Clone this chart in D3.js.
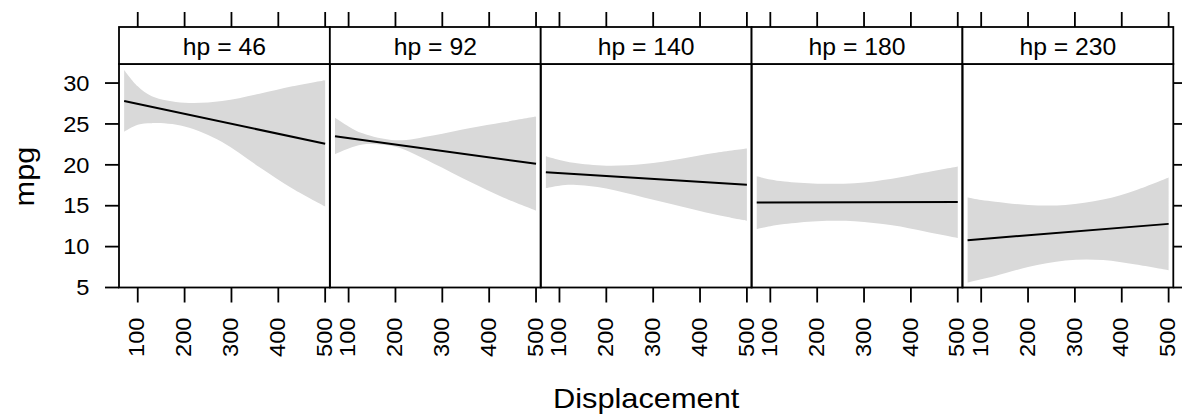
<!DOCTYPE html>
<html>
<head>
<meta charset="utf-8">
<script src="https://cdn.jsdelivr.net/npm/d3@7"></script>
<style>
  html, body { margin: 0; padding: 0; background: #ffffff; }
  svg { display: block; }
  text { font-family: "Liberation Sans", Arial, Helvetica, sans-serif; fill: #000; }
</style>
</head>
<body>
<svg id="chart" width="1182" height="415"></svg>
<script>
// ---------------- data ----------------
const hpLevels = [46, 92, 140, 180, 230];
const dispGrid = [71, 100, 130, 200, 280, 360, 430, 500];
const upperBand = [
  [31.6, 29.6, 28.4, 27.6, 27.8, 28.7, 29.6, 30.35],
  [25.76, 24.7, 23.85, 23.0, 23.6, 24.5, 25.2, 25.9],
  [21.05, 20.6, 20.25, 19.9, 20.1, 20.75, 21.45, 22.0],
  [18.6, 18.2, 17.95, 17.7, 17.75, 18.3, 19.05, 19.8],
  [16.0, 15.7, 15.5, 15.1, 15.1, 15.75, 16.9, 18.45]
];
const lowerBand = [
  [24.05, 24.9, 25.1, 24.7, 22.8, 19.7, 17.1, 14.9],
  [21.3, 22.0, 22.5, 22.2, 20.2, 17.9, 16.0, 14.4],
  [17.15, 17.45, 17.55, 17.1, 16.0, 14.9, 13.95, 13.15],
  [12.15, 12.5, 12.75, 13.1, 13.1, 12.6, 11.85, 11.05],
  [5.6, 6.0, 6.4, 7.5, 8.3, 8.35, 7.8, 7.1]
];
const fitDisp = [71, 500];
const fitMpg = [
  [27.8, 22.58],
  [23.5, 20.13],
  [19.1, 17.56],
  [15.4, 15.45],
  [10.79, 12.78]
];
const xTicks = [100, 200, 300, 400, 500];
const yTicks = [5, 10, 15, 20, 25, 30];
const xLabel = "Displacement";
const yLabel = "mpg";

// ---------------- layout ----------------
const svg = d3.select("#chart");
const left = 119, right = 1173.3;
const stripTop = 27, panelTop = 64, panelBottom = 287.5;
const nP = hpLevels.length;
const pw = (right - left) / nP;
const tickLen = 15;
const tickFont = 21.5, tickStretch = 1.1;
const stripFont = 24, stripStretch = 1.03;
const labFont = 28.5, labStretch = 1.08;
const lw = 1.8;

const y = d3.scaleLinear().domain([5, 32.33]).range([panelBottom, panelTop]);

const bandColor = "#d9d9d9";

hpLevels.forEach((hp, i) => {
  const x0 = left + i * pw;
  const x = d3.scaleLinear().domain([60, 510]).range([x0, x0 + pw]);
  const g = svg.append("g");

  // band
  const pts = dispGrid.map((d, k) => ({ d, lo: lowerBand[i][k], hi: upperBand[i][k] }));
  const area = d3.area()
    .x(p => x(p.d))
    .y0(p => y(p.lo))
    .y1(p => y(p.hi))
    .curve(d3.curveCatmullRom.alpha(0.5));
  g.append("path").attr("d", area(pts)).attr("fill", bandColor).attr("stroke", "none");

  // fitted line
  const line = d3.line().x(p => x(p[0])).y(p => y(p[1]));
  g.append("path")
    .attr("d", line(fitDisp.map((d, k) => [d, fitMpg[i][k]])))
    .attr("fill", "none").attr("stroke", "#000").attr("stroke-width", 2);

  // panel frame
  g.append("rect")
    .attr("x", x0).attr("y", panelTop).attr("width", pw).attr("height", panelBottom - panelTop)
    .attr("fill", "none").attr("stroke", "#000").attr("stroke-width", lw);

  // strip
  g.append("rect")
    .attr("x", x0).attr("y", stripTop).attr("width", pw).attr("height", panelTop - stripTop)
    .attr("fill", "#fff").attr("stroke", "#000").attr("stroke-width", lw);
  g.append("g")
    .attr("transform", `translate(${x0 + pw / 2},${54.5}) scale(${stripStretch},1)`)
    .append("text")
    .attr("text-anchor", "middle")
    .attr("font-size", stripFont)
    .text(`hp = ${hp}`);

  // bottom ticks + labels, top ticks
  xTicks.forEach(t => {
    const xx = x(t);
    g.append("line").attr("x1", xx).attr("x2", xx)
      .attr("y1", panelBottom).attr("y2", panelBottom + tickLen)
      .attr("stroke", "#000").attr("stroke-width", lw);
    g.append("line").attr("x1", xx).attr("x2", xx)
      .attr("y1", stripTop).attr("y2", stripTop - tickLen)
      .attr("stroke", "#000").attr("stroke-width", lw);
    g.append("g")
      .attr("transform", `translate(${xx + 0.358 * tickFont - 1},${317.5}) rotate(-90) scale(${tickStretch},1)`)
      .append("text")
      .attr("text-anchor", "end")
      .attr("font-size", tickFont)
      .text(t);
  });
});

// left axis (first panel) and right ticks (last panel)
yTicks.forEach(t => {
  const yy = y(t);
  svg.append("line").attr("x1", left - 14).attr("x2", left)
    .attr("y1", yy).attr("y2", yy).attr("stroke", "#000").attr("stroke-width", lw);
  svg.append("line").attr("x1", right).attr("x2", right + 14)
    .attr("y1", yy).attr("y2", yy).attr("stroke", "#000").attr("stroke-width", lw);
  svg.append("g")
    .attr("transform", `translate(${89.5},${yy + 0.358 * tickFont}) scale(${tickStretch},1)`)
    .append("text")
    .attr("text-anchor", "end")
    .attr("font-size", tickFont)
    .text(t);
});

// axis titles
svg.append("g")
  .attr("transform", `translate(${(left + right) / 2},${407.5}) scale(${labStretch},1)`)
  .append("text")
  .attr("text-anchor", "middle")
  .attr("font-size", labFont)
  .text(xLabel);

svg.append("g")
  .attr("transform", `translate(${34},${176.5}) rotate(-90) scale(${labStretch},1)`)
  .append("text")
  .attr("text-anchor", "middle")
  .attr("font-size", labFont)
  .text(yLabel);
</script>
</body>
</html>
